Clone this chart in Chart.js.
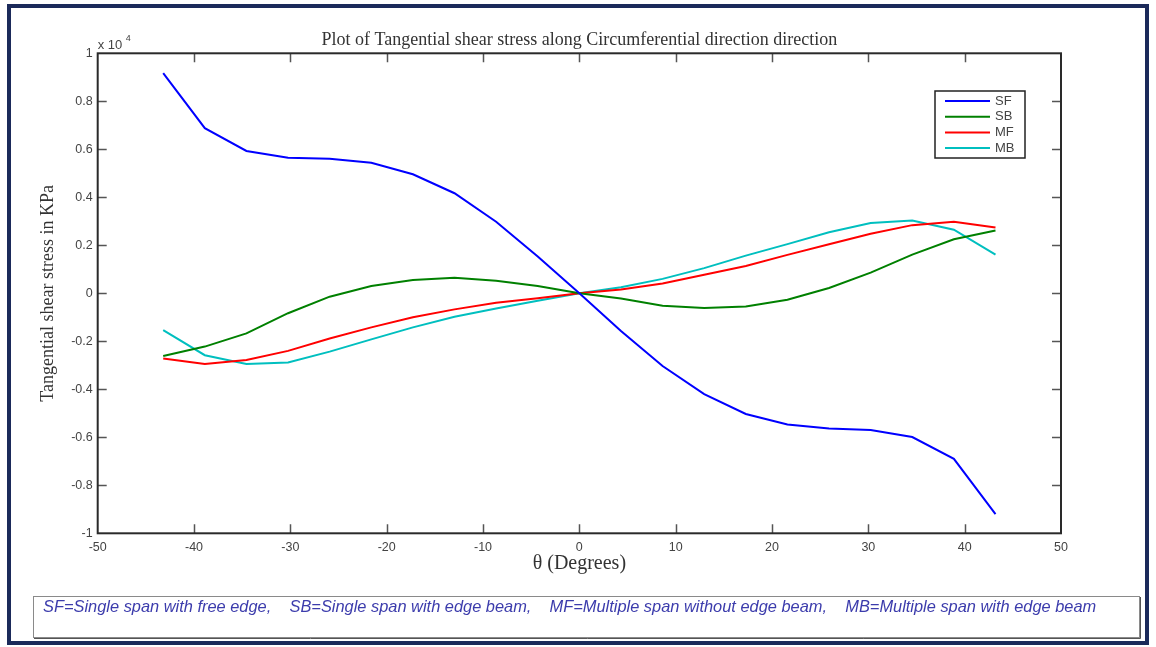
<!DOCTYPE html>
<html>
<head>
<meta charset="utf-8">
<script src="https://cdn.jsdelivr.net/npm/chart.js@4"></script>
<style>
  html, body { margin: 0; padding: 0; background: #fff; }
  #wrap { width: 1156px; height: 647px; }
</style>
</head>
<body>
<div id="wrap"><canvas id="myChart" width="1156" height="647"></canvas></div>
<script>
(() => {
  'use strict'

  // theta (degrees) and stress values in units of 10^4 KPa
  const theta = [-43.2, -38.88, -34.56, -30.24, -25.92, -21.6, -17.28, -12.96, -8.64, -4.32, 0,
    4.32, 8.64, 12.96, 17.28, 21.6, 25.92, 30.24, 34.56, 38.88, 43.2]
  const sf = [0.917, 0.688, 0.593, 0.565, 0.561, 0.544, 0.496, 0.417, 0.298, 0.153, 0,
    -0.157, -0.303, -0.420, -0.503, -0.547, -0.563, -0.570, -0.599, -0.690, -0.920]
  const sb = [-0.261, -0.222, -0.167, -0.083, -0.014, 0.030, 0.055, 0.065, 0.052, 0.030, 0,
    -0.022, -0.052, -0.061, -0.055, -0.027, 0.022, 0.086, 0.161, 0.225, 0.262]
  const mf = [-0.272, -0.295, -0.278, -0.240, -0.188, -0.142, -0.100, -0.067, -0.039, -0.021, 0,
    0.016, 0.041, 0.077, 0.114, 0.160, 0.204, 0.248, 0.284, 0.298, 0.274]
  const mb = [-0.153, -0.258, -0.295, -0.288, -0.243, -0.192, -0.142, -0.098, -0.063, -0.031, 0,
    0.025, 0.060, 0.105, 0.157, 0.205, 0.254, 0.293, 0.303, 0.265, 0.161]
  const seriesNames = ['SF', 'SB', 'MF', 'MB']
  const xTicks = [-50, -40, -30, -20, -10, 0, 10, 20, 30, 40, 50]
  const yTicks = [-1, -0.8, -0.6, -0.4, -0.2, 0, 0.2, 0.4, 0.6, 0.8, 1]

  const note = 'SF=Single span with free edge,    SB=Single span with edge beam,    MF=Multiple span without edge beam,    MB=Multiple span with edge beam'

  const colors = ['#0000ff', '#008000', '#ff0000', '#00bfbf']
  const toPts = ys => theta.map((t, i) => ({ x: t, y: ys[i] }))
  const sans = '"Liberation Sans", Arial, sans-serif'
  const serif = '"Liberation Serif", "Times New Roman", serif'

  const decor = {
    id: 'decor',
    beforeDraw (chart) {
      const c = chart.ctx
      c.save()
      c.fillStyle = '#fff'
      c.fillRect(0, 0, chart.width, chart.height)
      // outer frame
      c.strokeStyle = '#1b2a5a'
      c.lineWidth = 4
      c.strokeRect(9, 6, 1138, 637)
      // note box
      c.strokeStyle = '#8a8a8a'
      c.lineWidth = 1
      c.strokeRect(33.5, 596.5, 1106, 41)
      c.strokeStyle = '#555'
      c.beginPath()
      c.moveTo(1140.5, 597); c.lineTo(1140.5, 638.5); c.lineTo(34, 638.5)
      c.stroke()
      c.fillStyle = '#3c3cac'
      c.font = 'italic 16.4px ' + sans
      c.textBaseline = 'middle'
      c.fillText(note, 43, 607)
      c.restore()
    },
    afterDraw (chart) {
      const c = chart.ctx
      const a = chart.chartArea
      const xs = chart.scales.x
      const ys = chart.scales.y
      c.save()
      // inward ticks
      c.strokeStyle = '#555'
      c.lineWidth = 1.5
      c.beginPath()
      xTicks.slice(1, -1).forEach(v => {
        const px = Math.round(xs.getPixelForValue(v)) + 0.5
        c.moveTo(px, a.bottom); c.lineTo(px, a.bottom - 9)
        c.moveTo(px, a.top); c.lineTo(px, a.top + 9)
      })
      yTicks.slice(1, -1).forEach(v => {
        const py = Math.round(ys.getPixelForValue(v)) + 0.5
        c.moveTo(a.left, py); c.lineTo(a.left + 9, py)
        c.moveTo(a.right, py); c.lineTo(a.right - 9, py)
      })
      c.stroke()
      // box
      c.strokeStyle = '#2a2a2a'
      c.lineWidth = 2
      c.strokeRect(a.left, a.top, a.right - a.left, a.bottom - a.top)
      // exponent label
      c.fillStyle = '#444'
      c.font = '13px ' + sans
      c.textBaseline = 'alphabetic'
      c.fillText('x 10', a.left, a.top - 4)
      c.font = '9px ' + sans
      c.fillText('4', a.left + 28, a.top - 12)
      // legend
      const lx = 935, ly = 91, lw = 90, lh = 67
      c.fillStyle = '#fff'
      c.fillRect(lx, ly, lw, lh)
      c.strokeStyle = '#222'
      c.lineWidth = 1.5
      c.strokeRect(lx, ly, lw, lh)
      c.font = '13px ' + sans
      c.textBaseline = 'middle'
      chart.data.datasets.forEach((ds, i) => {
        const yy = ly + 10 + i * 15.7
        c.strokeStyle = ds.borderColor
        c.lineWidth = 2
        c.beginPath()
        c.moveTo(lx + 10, yy); c.lineTo(lx + 55, yy)
        c.stroke()
        c.fillStyle = '#444'
        c.fillText(ds.label, lx + 60, yy)
      })
      c.restore()
    }
  }

  const ctx = document.getElementById('myChart')
  const myChart = new Chart(ctx, {
    type: 'line',
    data: {
      datasets: [sf, sb, mf, mb].map((ys, i) => ({
        label: seriesNames[i],
        data: toPts(ys),
        borderColor: colors[i],
        borderWidth: 2,
        pointRadius: 0,
        tension: 0,
        fill: false
      }))
    },
    options: {
      responsive: false,
      animation: false,
      layout: { padding: { left: 0, right: 95, top: 0, bottom: 68.7 } },
      scales: {
        x: {
          type: 'linear',
          min: -50,
          max: 50,
          afterBuildTicks: s => { s.ticks = xTicks.map(v => ({ value: v })) },
          afterFit: s => { s.height = 45 },
          grid: { display: false, drawTicks: false },
          border: { display: false },
          ticks: {
            padding: 7,
            color: '#444',
            font: { family: sans, size: 12.5 },
            callback: v => String(v)
          },
          title: {
            display: true,
            text: 'θ (Degrees)',
            color: '#333',
            font: { family: serif, size: 20 },
            padding: { top: 0, bottom: 3 }
          }
        },
        y: {
          type: 'linear',
          min: -1,
          max: 1,
          afterBuildTicks: s => { s.ticks = yTicks.map(v => ({ value: v })) },
          afterFit: s => { s.width = 97.7 },
          grid: { display: false, drawTicks: false },
          border: { display: false },
          ticks: {
            padding: 5,
            color: '#444',
            font: { family: sans, size: 12.5 },
            callback: v => String(+v.toFixed(1))
          },
          title: {
            display: true,
            text: 'Tangential shear stress in KPa',
            color: '#333',
            font: { family: serif, size: 18 },
            padding: { top: 37, bottom: 0 }
          }
        }
      },
      plugins: {
        legend: { display: false },
        tooltip: { enabled: false },
        title: {
          display: true,
          fullSize: false,
          text: 'Plot of Tangential shear stress along Circumferential direction direction',
          color: '#333',
          font: { family: serif, size: 18, weight: 'normal' },
          padding: { top: 29, bottom: 2.7 }
        }
      }
    },
    plugins: [decor]
  })
})()
</script>
</body>
</html>
